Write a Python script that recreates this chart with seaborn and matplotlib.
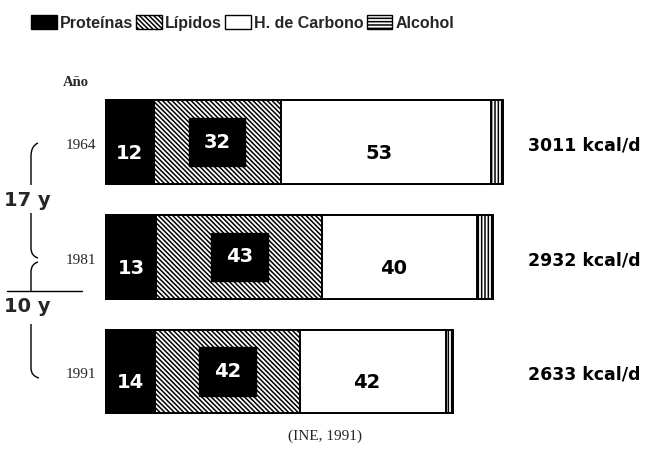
import numpy as np
import pandas as pd
import matplotlib
matplotlib.use("Agg")
import matplotlib.pyplot as plt
from matplotlib.patches import Patch, PathPatch
from matplotlib.path import Path
import seaborn as sns

years = ["1964", "1981", "1991"]
proteinas = [12, 13, 14]
lipidos = [32, 43, 42]
carbono = [53, 40, 42]
alcohol = [3, 4, 2]
kcal = [3011, 2932, 2633]

df = pd.DataFrame({"year": years, "prot": proteinas, "lip": lipidos,
                   "carb": carbono, "alc": alcohol, "kcal": kcal})
for col in ["prot", "lip", "carb", "alc"]:
    df[col + "_k"] = df[col] / 100 * df["kcal"]
df["c_prot"] = df["prot_k"]
df["c_lip"] = df["c_prot"] + df["lip_k"]
df["c_carb"] = df["c_lip"] + df["carb_k"]
df["c_alc"] = df["c_carb"] + df["alc_k"]

sns.set_theme(style="white")
plt.rcParams["hatch.linewidth"] = 1.1

W, H = 651, 454
fig = plt.figure(figsize=(W / 100, H / 100), dpi=100)
ax = fig.add_axes([0, 0, 1, 1])

bar_w = 0.73
lw = 1.4
lip_hatch = "\\" * 7
# draw cumulative layers, widest first so narrower ones sit on top
sns.barplot(data=df, x="c_alc", y="year", orient="h", color="white",
            edgecolor="black", linewidth=lw, hatch="|" * 5, width=bar_w,
            errorbar=None, ax=ax)
sns.barplot(data=df, x="c_carb", y="year", orient="h", color="white",
            edgecolor="black", linewidth=lw, width=bar_w, errorbar=None, ax=ax)
sns.barplot(data=df, x="c_lip", y="year", orient="h", color="white",
            edgecolor="black", linewidth=lw, hatch=lip_hatch, width=bar_w,
            errorbar=None, ax=ax)
sns.barplot(data=df, x="c_prot", y="year", orient="h", color="black",
            edgecolor="black", linewidth=lw, width=bar_w, errorbar=None, ax=ax)

# map data to pixels: x=0 at px 106, 3011 kcal at px 503; bar 0 centred at px 142
sx = (503 - 106) / 3011
x0 = -106 / sx
x1 = (W - 106) / sx
sy = 114.75
ax.set_xlim(x0, x1)
ax.set_ylim((H - 142) / sy, -142 / sy)
ax.axis("off")

num_font = dict(family="DejaVu Sans", fontweight="bold", fontsize=14)
for i, r in df.iterrows():
    ax.text(r["c_prot"] / 2, i + 0.1, str(r["prot"]), color="white",
            ha="center", va="center", **num_font)
    ax.text(r["c_prot"] + r["lip_k"] / 2, i, str(r["lip"]), color="white",
            ha="center", va="center",
            bbox=dict(boxstyle="square,pad=0.75", fc="black", ec="black"),
            **num_font)
    ax.text(r["c_lip"] + r["carb_k"] / 2 - 50, i + 0.1, str(r["carb"]),
            color="black", ha="center", va="center", **num_font)
    ax.text(3200, i + 0.03, f"{r['kcal']} kcal/d", color="black",
            ha="left", va="center", family="DejaVu Sans",
            fontweight="bold", fontsize=12.5)
    ax.text(-10 / sx, i + 0.03, r["year"], ha="right", va="center",
            family="Liberation Serif", fontsize=11)


def px(x, y):
    return (x / W, 1 - y / H)


tr = ax.transAxes
ax.text(*px(63, 83), "Año", transform=tr, ha="left", va="center",
        family="Liberation Serif", fontweight="bold", fontsize=10.5)
ax.text(*px(4, 200), "17 y", transform=tr, ha="left", va="center",
        family="DejaVu Sans", fontweight="bold", fontsize=14)
ax.text(*px(4, 306), "10 y", transform=tr, ha="left", va="center",
        family="DejaVu Sans", fontweight="bold", fontsize=14)
ax.text(*px(325, 436), "(INE, 1991)", transform=tr, ha="center",
        va="center", family="Liberation Serif", fontsize=11)


def curve(points, codes):
    p = Path([px(*q) for q in points], codes)
    ax.add_patch(PathPatch(p, fc="none", ec="black", lw=1.0, transform=tr))


M, L, C = Path.MOVETO, Path.LINETO, Path.CURVE3
curve([(38, 143), (31, 146), (31, 156), (31, 185)], [M, C, C, L])
curve([(31, 213), (31, 248), (31, 256), (38, 258)], [M, L, C, C])
curve([(38, 262), (31, 264), (31, 272), (31, 291)], [M, C, C, L])
curve([(31, 324), (31, 368), (31, 376), (39, 378)], [M, L, C, C])
ax.plot([7 / W, 82 / W], [1 - 291 / H, 1 - 291 / H], color="black",
        lw=1.0, transform=tr)

handles = [
    Patch(fc="black", ec="black", label="Proteínas"),
    Patch(fc="white", ec="black", hatch=lip_hatch, label="Lípidos"),
    Patch(fc="white", ec="black", label="H. de Carbono"),
    Patch(fc="white", ec="black", hatch="-----", label="Alcohol"),
]
leg = fig.legend(handles=handles, loc="center left",
                 bbox_to_anchor=(31 / W, 1 - 23 / H), ncol=4, frameon=False,
                 handlelength=1.6, handleheight=1.0, handletextpad=0.2,
                 columnspacing=0.2, borderaxespad=0, borderpad=0,
                 prop=dict(family="Liberation Sans", weight="bold", size=11.5))

fig.savefig("out.png", dpi=100)
